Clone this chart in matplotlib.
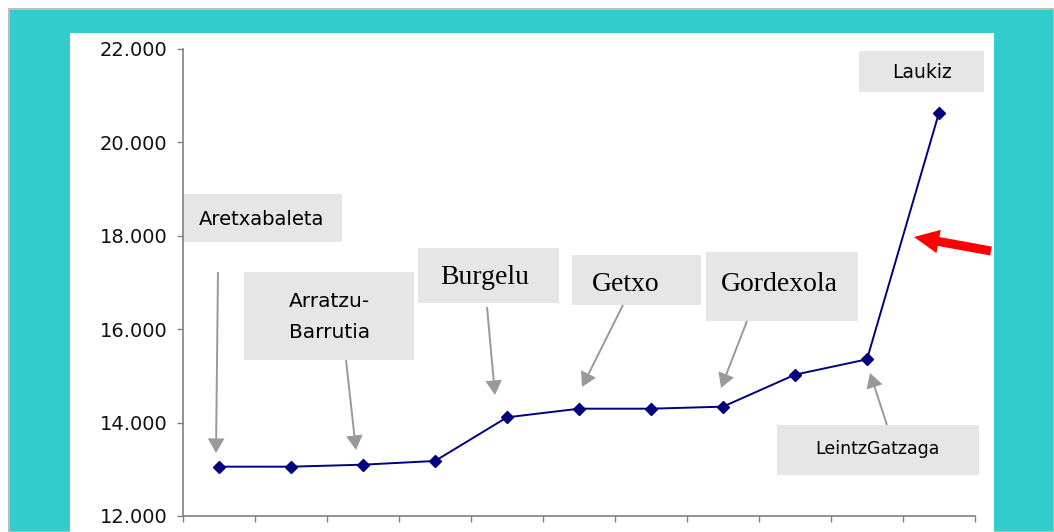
import matplotlib.pyplot as plt
from matplotlib.patches import Rectangle

# udalerriak, ordenatuta
herriak = ['Aretxabaleta', 'Aramaio', 'Arratzu-Barrutia', 'Bakio', 'Burgelu',
           'Getxo', 'Elgoibar', 'Gordexola', 'Eskoriatza', 'LeintzGatzaga', 'Laukiz']
balioak = [13056, 13056, 13099, 13178, 14113, 14298, 14298, 14341, 15026, 15355, 20636]
y_ticks = [12000, 14000, 16000, 18000, 20000, 22000]
y_labels = ['12.000', '14.000', '16.000', '18.000', '20.000', '22.000']

W, H = 1054, 532


def px(x, y):
    # pixel (goitik neurtuta) -> figure fraction
    return x / W, 1 - y / H


fig = plt.figure(figsize=(W / 100, H / 100), dpi=100, facecolor='white')

# atzeko planoa: ertz grisa, turkesa eta panel zuria
fig.patches.append(Rectangle(px(9, H), (W - 9) / W, (H - 9) / H, transform=fig.transFigure,
                             facecolor='#33CCCC', edgecolor='#BBBBBB', lw=1.5, zorder=-3))
fig.patches.append(Rectangle(px(70, H), (994 - 70) / W, (H - 33) / H, transform=fig.transFigure,
                             facecolor='white', edgecolor='none', zorder=-2))

# etiketa-kutxak: (x0, y0, x1, y1)
kutxak = [(183, 194, 342, 242), (244, 272, 414, 360), (418, 248, 559, 303),
          (572, 255, 701, 305), (706, 252, 858, 321), (859, 51, 984, 92),
          (777, 425, 979, 475)]
for x0, y0, x1, y1 in kutxak:
    fig.patches.append(Rectangle(px(x0, y1), (x1 - x0) / W, (y1 - y0) / H,
                                 transform=fig.transFigure, facecolor='#E6E6E6',
                                 edgecolor='none', zorder=-1))

ax = fig.add_axes([183 / W, 1 - 516 / H, (975 - 183) / W, (516 - 49) / H], zorder=0)
ax.set_facecolor('none')
x = list(range(len(herriak)))
ax.plot(x, balioak, color='#000080', lw=1.4, marker='D', ms=6, mec='#000080', zorder=3)

ax.set_xlim(-0.5, len(herriak) - 0.5)
ax.set_ylim(12000, 22000)
ax.set_xticks([i - 0.5 for i in range(len(herriak) + 1)])
ax.set_xticklabels([])
ax.set_yticks(y_ticks)
ax.set_yticklabels(y_labels, fontsize=14, color='#111111')
ax.tick_params(direction='out', length=4.3, width=1, color='#808080', pad=7)
for s in ['top', 'right']:
    ax.spines[s].set_visible(False)
for s in ['left', 'bottom']:
    ax.spines[s].set_color('#808080')
    ax.spines[s].set_linewidth(1.2)

sans = ['DejaVu Sans']
serif = ['Liberation Serif', 'DejaVu Serif']
testuak = [('Aretxabaleta', 262, 225, 14, sans),
           ('Arratzu-', 329.5, 307, 14.5, sans),
           ('Barrutia', 329.5, 338, 14.5, sans),
           ('Burgelu', 484.5, 284, 20, serif),
           ('Getxo', 626, 291, 20, serif),
           ('Gordexola', 779, 291, 20, serif),
           ('Laukiz', 921.5, 78, 13.5, sans),
           ('LeintzGatzaga', 877.5, 454, 12.5, sans)]
for t, tx, ty, fs, fam in testuak:
    fig.text(*px(tx, ty), t, ha='center', va='baseline', fontsize=fs,
             family=fam, color='black', zorder=2)

# gezi grisak: (isatsa, punta)
geziak = [((218, 272), (216, 453)), ((346, 360), (356, 450)),
          ((487, 307), (495, 395)), ((623, 305), (582, 387)),
          ((747, 321), (721, 388)), ((887, 425), (870, 373))]
for (x0, y0), (x1, y1) in geziak:
    ax.annotate('', xy=px(x1, y1), xycoords='figure fraction',
                xytext=px(x0, y0), textcoords='figure fraction',
                arrowprops=dict(arrowstyle='simple,head_length=10.5,head_width=12,tail_width=1.4',
                                mutation_scale=1, fc='#999999', ec='none',
                                shrinkA=0, shrinkB=0), annotation_clip=False)

# gezi gorria
ax.annotate('', xy=px(914, 237), xycoords='figure fraction',
            xytext=px(991, 251), textcoords='figure fraction',
            arrowprops=dict(arrowstyle='simple,head_length=18,head_width=17,tail_width=6.5',
                            mutation_scale=1, fc='#FF0000', ec='none',
                            shrinkA=0, shrinkB=0), annotation_clip=False)

fig.savefig('out.png', dpi=100, facecolor=fig.get_facecolor())
